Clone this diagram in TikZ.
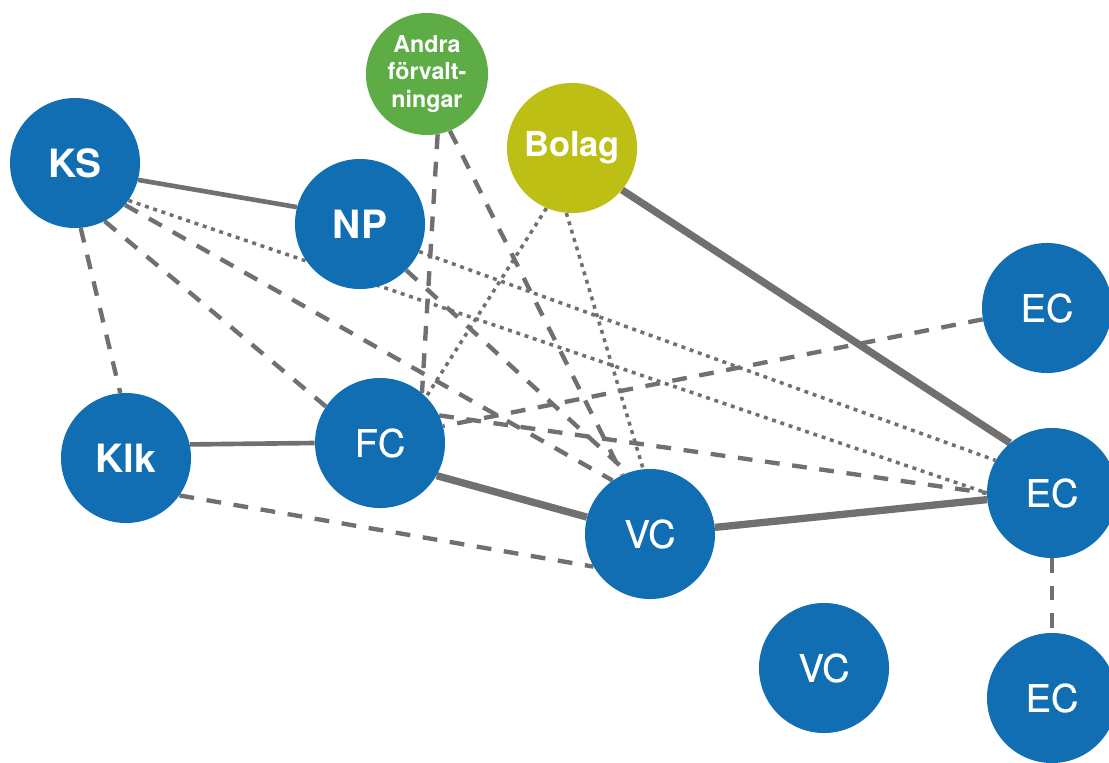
\documentclass[tikz,border=0pt]{standalone}
\usepackage{fontspec}
\setmainfont{TeX Gyre Heros}
\newfontfamily\medfont{TeX Gyre Heros}[FakeBold=0.6]
\usepackage{tikz}
\usetikzlibrary{backgrounds}
\definecolor{orgblue}{RGB}{18,110,178}
\definecolor{orggreen}{RGB}{94,172,70}
\definecolor{orgolive}{RGB}{189,191,20}
\definecolor{tiegray}{RGB}{112,112,112}

\begin{document}
\begin{tikzpicture}[x=0.025cm, y=-0.025cm,
    org/.style={circle, fill=orgblue, text=white, inner sep=0pt, minimum size=3.25cm,
      font=\fontsize{27.7}{30}\selectfont\bfseries},
    unit/.style={org, font=\medfont\fontsize{27}{30}\selectfont},
    tie/.style={draw=tiegray, line width=3.3pt},
    firmtie/.style={draw=tiegray, line width=5.2pt},
    dashtie/.style={draw=tiegray, line width=3.1pt, dash pattern=on 10.5pt off 9pt},
    dottie/.style={draw=tiegray, line width=2.5pt, dash pattern=on 2.8pt off 3.4pt}]
        \useasboundingbox (0,0) rectangle (1109,762);

        \node[org] (KS) at (75,163) {KS};
        \node[org] (NP) at (360,224) {NP};
        \node[org, fill=orggreen, minimum size=3.05cm, align=center,
          font=\fontsize{16.5}{19.4}\selectfont\bfseries] (Andra) at (427,74) {Andra\\förvalt-\\ningar};
        \node[org, fill=orgolive, font=\fontsize{24.5}{27}\selectfont\bfseries] (Bolag) at (572,148) {Bolag};
        \node[unit] (EC1) at (1047,308) {EC};
        \node[org] (Klk) at (126,458) {Klk};
        \node[unit] (FC) at (380,443) {FC};
        \node[unit] (VC1) at (650,534) {VC};
        \node[unit] (EC2) at (1052,493) {EC};
        \node[unit] (VC2) at (824,668) {VC};
        \node[unit] (EC3) at (1052,698) {EC};

        \begin{scope}[on background layer]
        \draw[tie] (KS.-15) -- (NP.165);
        \draw[tie] (Klk.12) -- (FC.west);
        \draw[firmtie] (FC.-30) -- (VC1.165);
        \draw[firmtie] (VC1) -- (EC2);
        \draw[firmtie] (Bolag.-40) -- (EC2.130);

        \draw[dashtie] (KS.-85) -- (Klk.95);
        \draw[dashtie] (KS.-63) -- (FC.146);
        \draw[dashtie] (KS.-40) -- (VC1.125);
        \draw[dashtie] (NP.-45) -- (VC1.110);
        \draw[dashtie] (Andra.-80) -- (FC.50);
        \draw[dashtie] (Andra.-68) -- (VC1.115);
        \draw[dashtie] (EC1.190) -- (FC.15);
        \draw[dashtie] (FC.25) -- (EC2.west);
        \draw[dashtie] (Klk.-35) -- (VC1.210);
        \draw[dashtie] (EC2) -- (EC3);

        \draw[dottie] (KS.-35) -- (EC2.west);
        \draw[dottie] (NP.-25) -- (EC2.150);
        \draw[dottie] (Bolag.-113) -- (FC.45);
        \draw[dottie] (Bolag.-95) -- (VC1.96);
        \end{scope}
    \end{tikzpicture}
\end{document}
